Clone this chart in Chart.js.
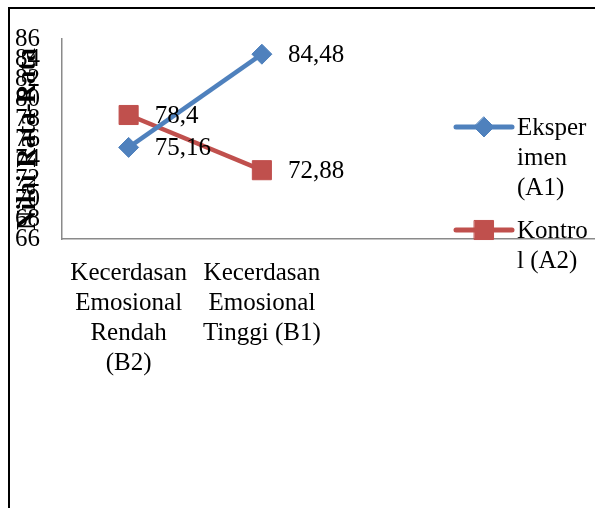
<!DOCTYPE html>
<html>
<head>
<meta charset="utf-8">
<script src="https://cdn.jsdelivr.net/npm/chart.js@4"></script>
<style>
  html, body { margin: 0; padding: 0; background: #fff; overflow: hidden; }
  #wrap { width: 595px; height: 508px; position: relative; }
</style>
</head>
<body>
<div id="wrap"><canvas id="c" width="595" height="508"></canvas></div>
<script>
// Category slots on the x axis (the last two slots are left empty)
const categories = ['Kecerdasan Emosional Rendah (B2)', 'Kecerdasan Emosional Tinggi (B1)', '', ''];
const seriesNames = ['Eksperimen (A1)', 'Kontrol (A2)'];
const eksperimen = [75.16, 84.48];
const kontrol = [78.4, 72.88];
const yMin = 66;
const yMax = 86;
const yStep = 2;
const yTitle = 'Nilai Rata-Rata';

const FAMILY = '"Liberation Serif", "Times New Roman", serif';
const FONT_SIZE = 25;
const textFont = FONT_SIZE + 'px ' + FAMILY;
const titleFont = 'bold 27px ' + FAMILY;

const blue = '#4F81BD';
const red = '#C0504D';

const measureCtx = document.createElement('canvas').getContext('2d');

// Greedy word wrap; words longer than the width are split by characters
function wrapText(text, font, maxWidth) {
  measureCtx.font = font;
  const fits = s => measureCtx.measureText(s).width <= maxWidth;
  const lines = [];
  let cur = '';
  for (const w of text.split(' ')) {
    const trial = cur ? cur + ' ' + w : w;
    if (fits(trial)) { cur = trial; continue; }
    if (cur) { lines.push(cur); cur = ''; }
    let word = w;
    while (!fits(word)) {
      let i = word.length;
      while (i > 1 && !fits(word.slice(0, i))) i--;
      lines.push(word.slice(0, i));
      word = word.slice(i);
    }
    cur = word;
  }
  if (cur) lines.push(cur);
  return lines;
}

const fmt = v => String(v).replace('.', ',');

// Outer frame lines (top and left)
const framePlugin = {
  id: 'frame',
  beforeDraw(chart) {
    const ctx = chart.ctx;
    ctx.save();
    ctx.fillStyle = '#fff';
    ctx.fillRect(0, 0, chart.width, chart.height);
    ctx.fillStyle = '#000';
    ctx.fillRect(8, 7, chart.width - 8, 2);
    ctx.fillRect(8, 7, 2, chart.height - 7);
    ctx.restore();
  }
};

// Rotated y-axis title, drawn over the tick labels
const yTitlePlugin = {
  id: 'yTitle',
  afterDraw(chart) {
    const ctx = chart.ctx;
    const area = chart.chartArea;
    ctx.save();
    ctx.translate(28, (area.top + area.bottom) / 2);
    ctx.rotate(-Math.PI / 2);
    ctx.font = titleFont;
    ctx.fillStyle = '#000';
    ctx.textAlign = 'center';
    ctx.textBaseline = 'middle';
    ctx.fillText(yTitle, 0, 0);
    ctx.restore();
  }
};

// Value labels to the right of each point
const valueLabelPlugin = {
  id: 'valueLabels',
  afterDatasetsDraw(chart) {
    const ctx = chart.ctx;
    ctx.save();
    ctx.font = textFont;
    ctx.fillStyle = '#000';
    ctx.textAlign = 'left';
    ctx.textBaseline = 'middle';
    chart.data.datasets.forEach((ds, di) => {
      const meta = chart.getDatasetMeta(di);
      meta.data.forEach((pt, i) => {
        const v = ds.data[i];
        if (v == null) return;
        ctx.fillText(fmt(v), pt.x + 26, pt.y + 1);
      });
    });
    ctx.restore();
  }
};

// Legend on the right with wrapped entry names
const legendPlugin = {
  id: 'sideLegend',
  afterDraw(chart) {
    const ctx = chart.ctx;
    const x0 = 456, x1 = 512, textX = 517;
    const lineH = 30, gap = 13;
    let y = 127;
    ctx.save();
    chart.data.datasets.forEach((ds) => {
      ctx.strokeStyle = ds.borderColor;
      ctx.lineWidth = 5;
      ctx.lineCap = 'round';
      ctx.beginPath();
      ctx.moveTo(x0, y);
      ctx.lineTo(x1, y);
      ctx.stroke();

      ctx.fillStyle = ds.pointBackgroundColor;
      ctx.strokeStyle = ds.pointBorderColor;
      ctx.lineWidth = 1;
      ctx.beginPath();
      const r = ds.pointRadius;
      const cx = (x0 + x1) / 2;
      if (ds.pointStyle === 'rect') {
        const s = r * Math.SQRT1_2;
        ctx.rect(cx - s, y - s, 2 * s, 2 * s);
      } else {
        ctx.moveTo(cx, y - r);
        ctx.lineTo(cx + r, y);
        ctx.lineTo(cx, y + r);
        ctx.lineTo(cx - r, y);
        ctx.closePath();
      }
      ctx.fill();
      ctx.stroke();

      ctx.font = textFont;
      ctx.fillStyle = '#000';
      ctx.textAlign = 'left';
      ctx.textBaseline = 'middle';
      const lines = wrapText(ds.label, textFont, 73);
      lines.forEach((ln, k) => ctx.fillText(ln, textX, y + 1 + k * lineH));
      y += lines.length * lineH + gap;
    });
    ctx.restore();
  }
};

new Chart(document.getElementById('c'), {
  type: 'line',
  data: {
    labels: categories,
    datasets: [
      {
        label: seriesNames[0],
        data: eksperimen,
        borderColor: blue,
        backgroundColor: blue,
        borderWidth: 4.5,
        pointStyle: 'rectRot',
        pointRadius: 10,
        pointHoverRadius: 10,
        pointBackgroundColor: blue,
        pointBorderColor: blue,
        pointBorderWidth: 1,
        tension: 0,
        clip: false
      },
      {
        label: seriesNames[1],
        data: kontrol,
        borderColor: red,
        backgroundColor: red,
        borderWidth: 4.5,
        pointStyle: 'rect',
        pointRadius: 13.5,
        pointHoverRadius: 13.5,
        pointBackgroundColor: red,
        pointBorderColor: red,
        pointBorderWidth: 1,
        tension: 0,
        clip: false
      }
    ]
  },
  options: {
    responsive: false,
    animation: false,
    devicePixelRatio: 1,
    layout: { autoPadding: false, padding: { left: 10, top: 39, right: 0, bottom: 0 } },
    plugins: {
      legend: { display: false },
      tooltip: { enabled: false },
      title: { display: false }
    },
    scales: {
      x: {
        type: 'category',
        offset: true,
        grid: { display: false, drawTicks: false },
        border: { display: true, color: '#8a8a8a', width: 1.5 },
        ticks: {
          autoSkip: false,
          maxRotation: 0,
          minRotation: 0,
          padding: 19,
          color: '#000',
          font: { family: FAMILY, size: FONT_SIZE, lineHeight: 1.2 },
          callback: function (value) {
            const l = this.getLabelForValue(value);
            return l ? wrapText(l, textFont, 124) : '';
          }
        },
        afterFit(scale) {
          scale.height = 508 - 239;
          scale.paddingLeft = 0;
          scale.paddingRight = 0;
        }
      },
      y: {
        min: yMin,
        max: yMax,
        grid: { display: false, drawTicks: false },
        border: { display: true, color: '#8a8a8a', width: 1.5 },
        ticks: {
          stepSize: yStep,
          autoSkip: false,
          padding: 22,
          color: '#000',
          font: { family: FAMILY, size: FONT_SIZE }
        },
        afterFit(scale) { scale.width = 52; }
      }
    }
  },
  plugins: [framePlugin, valueLabelPlugin, yTitlePlugin, legendPlugin]
});
</script>
</body>
</html>
